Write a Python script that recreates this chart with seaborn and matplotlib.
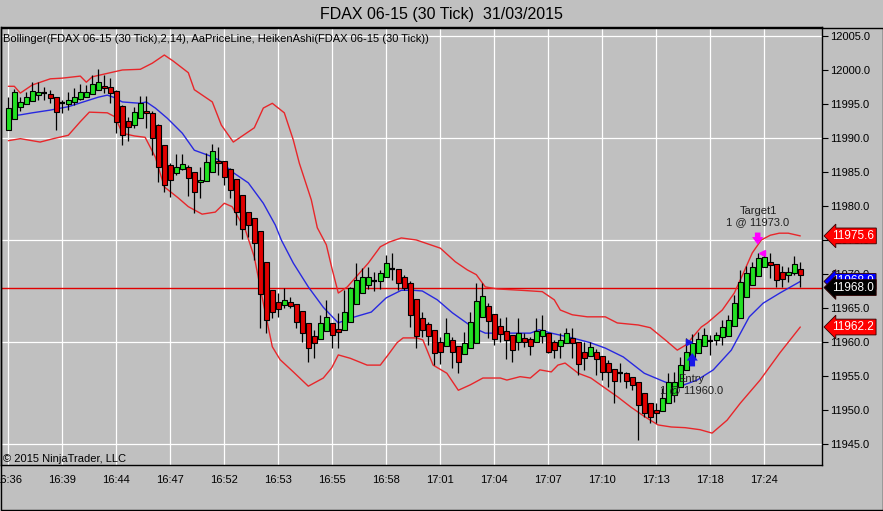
import numpy as np
import pandas as pd
import matplotlib
matplotlib.use('Agg')
import matplotlib.pyplot as plt
from matplotlib.patches import Rectangle
import seaborn as sns

# Heiken Ashi candles (30 tick)
opens = [
    11991.2, 11992.8, 11994.5, 11995.0, 11995.4, 11996.3, 11996.6, 11996.5, 11996.0, 11995.1,
    11995.0, 11995.3, 11995.7, 11996.0, 11996.5, 11997.1, 11997.6, 11997.5, 11996.9, 11994.7,
    11992.5, 11991.9, 11992.9, 11994.0, 11993.7, 11991.9, 11989.0, 11986.0, 11984.9, 11985.4,
    11985.7, 11985.0, 11983.5, 11983.7, 11985.0, 11986.6, 11986.6, 11985.4, 11984.0, 11981.6,
    11979.1, 11978.2, 11976.3, 11971.8, 11967.6, 11965.9, 11965.4, 11965.9, 11965.6, 11964.6,
    11962.8, 11960.9, 11960.4, 11961.6, 11962.8, 11961.9, 11961.8, 11962.9, 11965.6, 11967.2,
    11968.4, 11969.0, 11969.0, 11969.6, 11970.7, 11970.7, 11969.6, 11968.7, 11966.3, 11963.5,
    11962.6, 11961.8, 11960.0, 11959.4, 11960.3, 11959.4, 11958.2, 11959.1, 11959.9, 11963.7,
    11965.3, 11964.1, 11962.4, 11961.6, 11961.0, 11960.0, 11960.6, 11960.4, 11960.0, 11960.9,
    11961.3, 11960.0, 11959.4, 11959.9, 11960.6, 11960.0, 11958.5, 11957.9, 11958.5, 11957.9,
    11956.9, 11956.0, 11955.4, 11955.4, 11954.9, 11954.1, 11952.5, 11951.0, 11950.0, 11949.8,
    11951.0, 11952.2, 11953.4, 11955.9, 11957.6, 11958.4, 11959.4, 11960.2, 11960.3, 11960.7,
    11960.9, 11962.4, 11963.5, 11966.6, 11968.4, 11969.7, 11971.0, 11971.8, 11971.5, 11970.3,
    11969.9, 11970.1, 11970.7]
highs = [
    11996.0, 11997.2, 11996.0, 11996.8, 11998.2, 11998.2, 11997.5, 11997.1, 11996.0, 11995.6,
    11996.8, 11997.4, 11998.0, 11997.8, 11999.3, 12000.1, 11999.3, 11998.8, 11997.0, 11994.9,
    11993.1, 11994.6, 11996.2, 11996.2, 11994.0, 11992.0, 11989.0, 11986.3, 11987.6, 11987.6,
    11986.0, 11985.0, 11985.7, 11987.8, 11989.1, 11988.7, 11986.6, 11985.6, 11984.0, 11981.6,
    11979.1, 11978.2, 11976.3, 11971.8, 11967.6, 11967.2, 11968.0, 11966.6, 11965.6, 11964.6,
    11962.8, 11961.8, 11964.0, 11966.2, 11962.8, 11964.3, 11967.6, 11968.1, 11971.6, 11970.9,
    11971.0, 11970.3, 11970.6, 11972.8, 11973.1, 11970.7, 11969.8, 11969.0, 11966.3, 11964.4,
    11962.9, 11961.8, 11960.7, 11963.5, 11960.7, 11959.4, 11961.5, 11964.4, 11968.7, 11968.7,
    11965.7, 11964.1, 11963.5, 11963.7, 11961.0, 11963.5, 11961.3, 11960.7, 11963.5, 11964.0,
    11961.3, 11960.3, 11961.3, 11962.0, 11962.0, 11960.0, 11960.0, 11960.0, 11959.0, 11957.9,
    11957.4, 11956.0, 11956.9, 11955.6, 11954.9, 11954.1, 11952.5, 11951.0, 11951.0, 11953.3,
    11955.4, 11955.6, 11957.8, 11960.6, 11961.2, 11961.5, 11962.1, 11961.0, 11961.5, 11963.2,
    11964.0, 11966.9, 11970.6, 11971.2, 11971.8, 11973.1, 11973.1, 11973.1, 11971.5, 11971.2,
    11971.0, 11972.6, 11971.8]
lows = [
    11991.2, 11992.8, 11994.0, 11995.0, 11995.4, 11995.6, 11995.6, 11995.1, 11991.2, 11993.7,
    11994.1, 11994.9, 11995.6, 11996.0, 11996.5, 11997.1, 11996.6, 11995.1, 11990.7, 11989.0,
    11989.6, 11991.5, 11992.9, 11991.5, 11987.5, 11983.5, 11982.0, 11981.3, 11984.6, 11985.3,
    11981.5, 11979.0, 11981.2, 11983.7, 11985.0, 11984.6, 11983.1, 11981.2, 11977.2, 11975.1,
    11975.4, 11972.1, 11962.0, 11961.3, 11963.5, 11963.7, 11965.0, 11965.0, 11962.0, 11960.0,
    11957.1, 11957.6, 11960.4, 11961.6, 11959.1, 11959.1, 11961.8, 11962.9, 11965.6, 11967.2,
    11967.8, 11967.5, 11967.8, 11969.6, 11969.1, 11967.6, 11967.6, 11962.2, 11959.1, 11960.7,
    11959.6, 11956.6, 11956.8, 11959.4, 11956.2, 11955.4, 11958.2, 11959.1, 11959.9, 11963.7,
    11960.6, 11959.6, 11960.0, 11957.5, 11957.1, 11958.8, 11959.3, 11958.1, 11960.0, 11959.9,
    11958.4, 11957.6, 11957.6, 11959.9, 11957.6, 11955.1, 11955.9, 11957.9, 11955.1, 11954.4,
    11953.4, 11951.0, 11954.1, 11953.2, 11952.9, 11945.6, 11949.0, 11948.1, 11948.1, 11949.8,
    11951.0, 11951.2, 11953.4, 11955.9, 11957.6, 11958.4, 11959.4, 11958.1, 11959.6, 11959.6,
    11960.9, 11962.4, 11963.5, 11966.6, 11968.4, 11969.7, 11971.0, 11969.4, 11968.1, 11968.1,
    11968.8, 11969.9, 11968.1]
closes = [
    11994.4, 11996.8, 11995.3, 11996.0, 11996.9, 11996.8, 11996.6, 11995.9, 11993.8, 11995.1,
    11995.6, 11996.0, 11996.8, 11996.8, 11997.9, 11998.2, 11997.4, 11996.6, 11992.4, 11990.4,
    11991.6, 11993.8, 11995.1, 11993.7, 11990.0, 11985.7, 11983.1, 11983.8, 11985.7, 11986.2,
    11984.1, 11982.1, 11983.8, 11986.5, 11988.1, 11986.3, 11984.3, 11982.4, 11979.1, 11976.6,
    11977.2, 11974.6, 11967.1, 11963.2, 11964.4, 11964.9, 11966.2, 11965.3, 11962.9, 11961.3,
    11959.1, 11959.9, 11962.8, 11963.7, 11961.0, 11961.5, 11964.4, 11967.9, 11969.1, 11969.6,
    11969.6, 11969.0, 11970.1, 11971.6, 11970.7, 11968.7, 11968.0, 11964.0, 11960.9, 11961.8,
    11960.9, 11958.4, 11958.5, 11961.3, 11958.5, 11957.1, 11959.9, 11962.9, 11966.0, 11966.8,
    11963.1, 11960.4, 11961.2, 11960.3, 11958.8, 11961.3, 11960.0, 11959.4, 11961.6, 11961.8,
    11958.5, 11958.8, 11960.3, 11961.3, 11959.9, 11956.8, 11957.6, 11959.3, 11957.5, 11955.6,
    11955.6, 11954.3, 11955.4, 11954.3, 11953.7, 11950.7, 11949.6, 11949.0, 11949.6, 11951.8,
    11954.1, 11954.1, 11956.6, 11958.5, 11959.9, 11960.4, 11961.0, 11960.2, 11961.0, 11962.2,
    11963.2, 11965.7, 11968.8, 11970.1, 11971.0, 11972.4, 11972.5, 11971.3, 11969.1, 11969.3,
    11970.3, 11971.5, 11969.9]

# Bollinger(2,14) bands, sampled along the bar index
upper_idx = [0, 1, 2, 4, 7, 9, 12, 13, 14, 17, 19, 22, 24, 26, 27.5, 30, 31, 34, 35.5, 37.5,
             39.5, 41, 42.5, 44, 46, 47.5, 48.5, 50.5, 51.5, 53, 54, 55, 56.5, 58, 60, 62, 63.5,
             65.5, 68, 72, 74.5, 76.5, 78, 79.5, 81.5, 85.5, 89, 91, 92, 94, 96.5, 99.5, 101.5,
             105, 107, 109.5, 111.5, 113, 115.5, 116.5, 119, 121, 122.5, 124, 125.5, 127, 128.5,
             130, 132]
upper_val = [11997.6, 11997.6, 11996.6, 11997.8, 11998.7, 11998.8, 11999.1, 11998.2, 11999.0,
             11999.6, 12000.0, 12000.1, 12001.0, 12002.2, 12001.3, 11999.6, 11997.1, 11995.3,
             11991.9, 11989.4, 11990.6, 11991.5, 11994.4, 11995.1, 11993.7, 11989.7, 11986.3,
             11980.9, 11976.8, 11974.3, 11970.6, 11967.2, 11968.1, 11969.6, 11971.6, 11974.0,
             11974.7, 11975.3, 11975.0, 11973.8, 11971.8, 11970.6, 11969.9, 11968.1, 11967.8,
             11967.6, 11967.4, 11966.2, 11964.7, 11964.0, 11963.7, 11963.7, 11962.8, 11962.5,
             11962.1, 11960.3, 11958.8, 11959.6, 11962.2, 11962.8, 11964.7, 11967.2, 11970.1,
             11973.1, 11975.0, 11975.7, 11976.0, 11976.0, 11975.6]
mid_idx = [0, 2, 4, 7, 10, 12.5, 15, 16.5, 17.5, 19, 22, 23, 24.5, 26.5, 29, 31, 33.5, 35, 37.5,
           40, 42.5, 44.5, 45.5, 47.5, 50, 52.5, 55, 57, 60.5, 63, 65.5, 67.5, 69, 71.5, 74, 77.5,
           79.5, 83, 87, 88.5, 90.5, 94, 97, 99.5, 102.5, 106, 109.5, 112, 114.8, 117.5, 120.5,
           123.5, 125.8, 128.6, 132]
mid_val = [11993.2, 11993.4, 11993.7, 11994.1, 11994.6, 11995.3, 11996.0, 11996.3, 11996.0,
           11995.3, 11995.1, 11995.3, 11994.4, 11992.9, 11990.7, 11988.2, 11987.4, 11986.8,
           11984.9, 11983.4, 11980.4, 11977.2, 11975.0, 11971.6, 11968.1, 11965.1, 11962.8,
           11963.5, 11964.4, 11966.5, 11967.6, 11967.6, 11967.5, 11966.2, 11964.3, 11962.1,
           11961.3, 11961.3, 11961.3, 11961.8, 11961.3, 11960.6, 11959.9, 11959.1, 11957.8,
           11955.4, 11954.1, 11953.5, 11954.4, 11955.9, 11958.8, 11963.7, 11965.7, 11967.2,
           11968.9]
lower_idx = [0, 2, 5.3, 7.5, 10, 12, 13.5, 16.5, 17.8, 19, 21, 22.8, 24.5, 26, 28.3, 30, 32.3,
             34.5, 36, 37.3, 39.5, 41, 42.5, 44, 45.3, 47.5, 50, 52.5, 53.9, 55, 57, 59.8, 62,
             63.3, 64.8, 65.8, 68.1, 69.1, 70.8, 73.1, 75, 77, 79.1, 82, 83.1, 85.3, 87, 88.6,
             90.5, 91.6, 92.8, 95, 97.1, 99.5, 101.6, 103.8, 106.1, 108.3, 110.5, 112.8, 115.3,
             117.3, 119.8, 122, 125.3, 128.6, 132]
lower_val = [11989.6, 11989.9, 11989.4, 11989.9, 11990.4, 11992.4, 11993.8, 11993.7, 11993.1,
             11990.7, 11990.3, 11990.1, 11987.2, 11982.8, 11981.2, 11979.9, 11978.8, 11979.1,
             11980.4, 11979.9, 11976.5, 11972.5, 11965.7, 11959.3, 11957.4, 11955.6, 11953.5,
             11954.7, 11956.2, 11958.1, 11957.6, 11956.6, 11956.6, 11958.1, 11959.9, 11960.6,
             11960.6, 11960.3, 11956.6, 11955.4, 11952.9, 11953.7, 11954.7, 11954.7, 11954.4,
             11954.9, 11954.7, 11955.9, 11955.6, 11956.6, 11956.9, 11955.4, 11954.7, 11953.2,
             11951.9, 11950.4, 11949.0, 11947.8, 11947.5, 11947.4, 11947.1, 11946.6, 11948.5,
             11951.0, 11954.4, 11958.4, 11962.2]

time_labels = ['16:36', '16:39', '16:44', '16:47', '16:52', '16:53', '16:55', '16:58',
               '17:01', '17:04', '17:07', '17:10', '17:13', '17:18', '17:24']
price_ticks = [11945, 11950, 11955, 11960, 11965, 11970, 11975, 11980, 11985, 11990,
               11995, 12000, 12005]
grid_prices = [11945, 11960, 11975, 11990, 12005]
last_price = 11968.0
upper_last = 11975.6
mid_last = 11968.9
lower_last = 11962.2

BG = '#C0C0C0'
UP = '#22E022'
DOWN = '#E00000'
BAND = '#E8262A'
MID = '#2828E0'
FS = 8

sns.set_style('white')
plt.rcParams['font.family'] = ['Liberation Sans', 'DejaVu Sans']

W, H = 883, 511
fig = plt.figure(figsize=(W / 100, H / 100), dpi=100, facecolor=BG)
ax = fig.add_axes([1 / W, 46 / H, 821 / W, 438 / H], facecolor=BG)

df = pd.DataFrame({'o': opens, 'h': highs, 'l': lows, 'c': closes})
df['i'] = np.arange(len(df))

# grid
tick_pos = np.arange(0, 9 * len(time_labels), 9)
for xp in tick_pos:
    ax.axvline(xp, color='white', lw=0.9, zorder=0)
for gp in grid_prices:
    ax.axhline(gp, color='white', lw=0.9, zorder=0)

ax.axhline(last_price, color='#E00000', lw=1.0, zorder=1.5)

# bollinger bands
sns.lineplot(x=upper_idx, y=upper_val, ax=ax, color=BAND, lw=1.0, estimator=None, sort=False, zorder=2)
sns.lineplot(x=lower_idx, y=lower_val, ax=ax, color=BAND, lw=1.0, estimator=None, sort=False, zorder=2)
sns.lineplot(x=mid_idx, y=mid_val, ax=ax, color=MID, lw=1.0, estimator=None, sort=False, zorder=2)

# candles
ax.vlines(df['i'], df['l'], df['h'], color='black', lw=0.9, zorder=3)
body_lo = df[['o', 'c']].min(axis=1)
body_h = (df['c'] - df['o']).abs()
cols = np.where(df['c'] > df['o'], UP, DOWN)
doji = body_h < 0.05
ax.bar(df['i'][~doji], body_h[~doji], bottom=body_lo[~doji], width=0.76,
       color=cols[~doji], edgecolor='black', lw=0.8, zorder=4)
ax.hlines(df['c'][doji], df['i'][doji] - 0.42, df['i'][doji] + 0.42, color='black', lw=1.6, zorder=4)

# trade markers
ax.text(124.95, 11979.3, 'Target1', ha='center', va='center', fontsize=FS, color='#202020')
ax.text(124.95, 11977.6, '1 @ 11973.0', ha='center', va='center', fontsize=FS, color='#202020')
ax.annotate('', xy=(124.9, 11973.9), xytext=(124.9, 11976.5),
            arrowprops=dict(arrowstyle='simple,head_width=0.8,head_length=0.55,tail_width=0.4',
                            color='#FF00FF', lw=0), zorder=6)
ax.plot([125.6], [11973.1], marker='<', ms=4.5, color='#FF00FF', zorder=6)

ax.text(113.9, 11954.6, 'Entry', ha='center', va='center', fontsize=FS, color='#202020', zorder=6)
ax.text(113.9, 11952.9, '1 @ 11960.0', ha='center', va='center', fontsize=FS, color='#202020', zorder=6)
ax.annotate('', xy=(114.0, 11958.8), xytext=(114.0, 11956.0),
            arrowprops=dict(arrowstyle='simple,head_width=0.8,head_length=0.55,tail_width=0.4',
                            color='#1818E8', lw=0), zorder=6)
ax.plot([113.4], [11960.0], marker='>', ms=4.5, color='#1818E8', zorder=6)

# axes
ax.set_xlim(-1.22, 135.62)
ax.set_ylim(11941.91, 12006.32)
ax.set_xticks(tick_pos)
ax.set_xticklabels(time_labels)
ax.yaxis.tick_right()
ax.set_yticks(price_ticks)
ax.set_yticklabels([f'{p:.1f}' for p in price_ticks])
ax.tick_params(axis='y', direction='out', length=4, width=0.8, pad=1.5, labelsize=FS,
               colors='black', left=False, right=True)
ax.tick_params(axis='x', direction='out', length=4.5, width=0.8, pad=2.5, labelsize=FS,
               colors='black')
ax.set_xlabel('')
ax.set_ylabel('')
for s in ax.spines.values():
    s.set_color('black')
    s.set_linewidth(1.0)


def price_tag(price, text, fc):
    ax.annotate(text, xy=(1, price), xycoords=ax.get_yaxis_transform(),
                xytext=(7.5, 0), textcoords='offset points', ha='left', va='center',
                fontsize=8.5, color='white', annotation_clip=False, zorder=10,
                bbox=dict(boxstyle='larrow,pad=0.16', fc=fc, ec='#300000', lw=0.6))


price_tag(upper_last, f'{upper_last:.1f}', '#FF0000')
price_tag(mid_last, f'{mid_last:.1f}', '#0000FF')
price_tag(last_price, f'{last_price:.1f}', '#000000')
price_tag(lower_last, f'{lower_last:.1f}', '#FF0000')

# texts
fig.text(441 / W, 1 - 14 / H, 'FDAX 06-15 (30 Tick)  31/03/2015', ha='center', va='center',
         fontsize=11.5, color='black')
fig.text(3 / W, 1 - 39 / H,
         'Bollinger(FDAX 06-15 (30 Tick),2,14), AaPriceLine, HeikenAshi(FDAX 06-15 (30 Tick))',
         ha='left', va='center', fontsize=FS, color='black')
fig.text(3 / W, 1 - 459 / H, '\u00a9 2015 NinjaTrader, LLC', ha='left', va='center',
         fontsize=FS, color='black')

fig.add_artist(Rectangle((0.5 / W, 1.5 / H), 882 / W, 482 / H, transform=fig.transFigure,
                         fill=False, ec='black', lw=1.0))

fig.savefig('out.png', dpi=100, facecolor=BG)
